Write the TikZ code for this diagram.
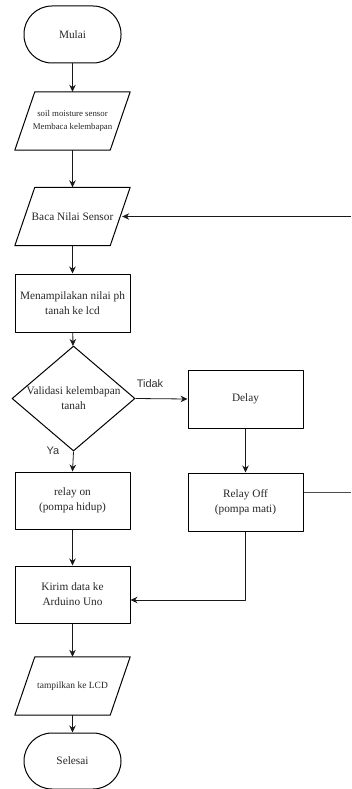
\documentclass[tikz,border=0pt]{standalone}
\usepackage{fontspec}
\setmainfont{Liberation Serif}
\newfontfamily\labelfont{Liberation Sans}
\usetikzlibrary{arrows.meta,shapes.geometric}

\begin{document}
\begin{tikzpicture}[x=1pt,y=1pt,>={Stealth[length=7pt,width=6.5pt]},line join=round,
  txt/.style={font=\fontsize{11.3}{15}\selectfont,text=black!85,align=center},
  smalltxt/.style={font=\fontsize{8.8}{13}\selectfont,text=black!85,align=center},
  outline/.style={draw,line width=1pt},
  term/.style={outline,rounded corners=28pt,minimum width=97pt,minimum height=57pt,inner sep=0pt,txt},
  io/.style={minimum width=95pt,minimum height=58pt,inner sep=0pt},
  proc/.style={outline,minimum width=115pt,minimum height=58pt,inner sep=0pt,txt},
  decision/.style={outline,diamond,minimum width=123pt,minimum height=105pt,inner sep=0pt},
  flow/.style={->,line width=0.8pt,black!90},
  branch/.style={font=\labelfont\fontsize{11}{13}\selectfont,text=black!80}]
  \useasboundingbox (0,0) rectangle (351,-789);
  \node[term] (MULAI) at (72.5,-34.5) {Mulai};
  \node[io,smalltxt] (SENSOR) at (72.5,-121) {soil moisture sensor\\Membaca kelembapan};
  \node[io,txt] (BACA) at (72.5,-216.5) {Baca Nilai Sensor};
  \node[proc] (PH) at (72.5,-303) {Menampilakan nilai ph\\tanah ke lcd};
  \node[decision] (VALID) at (73.5,-398.5) {};
  \node[txt] (VALIDTXT) at (VALID.center) {Validasi kelembapan\\tanah};
  \node[proc] (DELAY) at (245.5,-399) {Delay};
  \node[proc] (ROFF) at (245.5,-502) {Relay Off\\(pompa mati)};
  \node[proc,minimum height=57pt] (RON) at (72.5,-500.5) {relay on\\(pompa hidup)};
  \node[proc,minimum height=57pt] (KIRIM) at (72.5,-594.5) {Kirim data ke\\Arduino Uno};
  \node[io,font=\fontsize{9.5}{13}\selectfont,text=black!85] (LCD) at (72.5,-686) {tampilkan ke LCD};
  \node[term,minimum height=56pt] (SELESAI) at (72.5,-761) {Selesai};
  \draw[outline] ([xshift=10pt]SENSOR.north west) -- ([xshift=10pt]SENSOR.north east) -- ([xshift=-10pt]SENSOR.south east) -- ([xshift=-10pt]SENSOR.south west) -- cycle;
  \draw[outline] ([xshift=10pt]BACA.north west) -- ([xshift=10pt]BACA.north east) -- ([xshift=-10pt]BACA.south east) -- ([xshift=-10pt]BACA.south west) -- cycle;
  \draw[outline] ([xshift=10pt]LCD.north west) -- ([xshift=10pt]LCD.north east) -- ([xshift=-10pt]LCD.south east) -- ([xshift=-10pt]LCD.south west) -- cycle;
  \coordinate (LOOPIN) at (351,-216.5);
  \coordinate (LOOPOUT) at (351,-492);
  \draw[flow] (MULAI) -- (SENSOR);
  \draw[flow] (SENSOR) -- (BACA);
  \draw[flow] (BACA) -- (PH);
  \draw[flow] (PH) -- (VALID);
  \draw[flow] (VALID.east) -- (DELAY.west);
  \draw[flow] (VALID.south) -- (RON.north);
  \draw[flow] (DELAY) -- (ROFF);
  \draw[flow] (RON) -- (KIRIM);
  \draw[flow] (ROFF.south) |- ([yshift=-5.5pt]KIRIM.east);
  \draw[line width=0.8pt,black!70] (ROFF.east |- LOOPOUT) -- (LOOPOUT);
  \draw[flow] (LOOPIN) -- ([xshift=2pt]BACA.east);
  \draw[flow] (KIRIM) -- (LCD);
  \draw[flow] (LCD) -- (SELESAI);
  \node[branch] (TIDAK) at (150,-384) {Tidak};
  \node[branch] (YA) at (53,-451) {Ya};
\end{tikzpicture}
\end{document}
